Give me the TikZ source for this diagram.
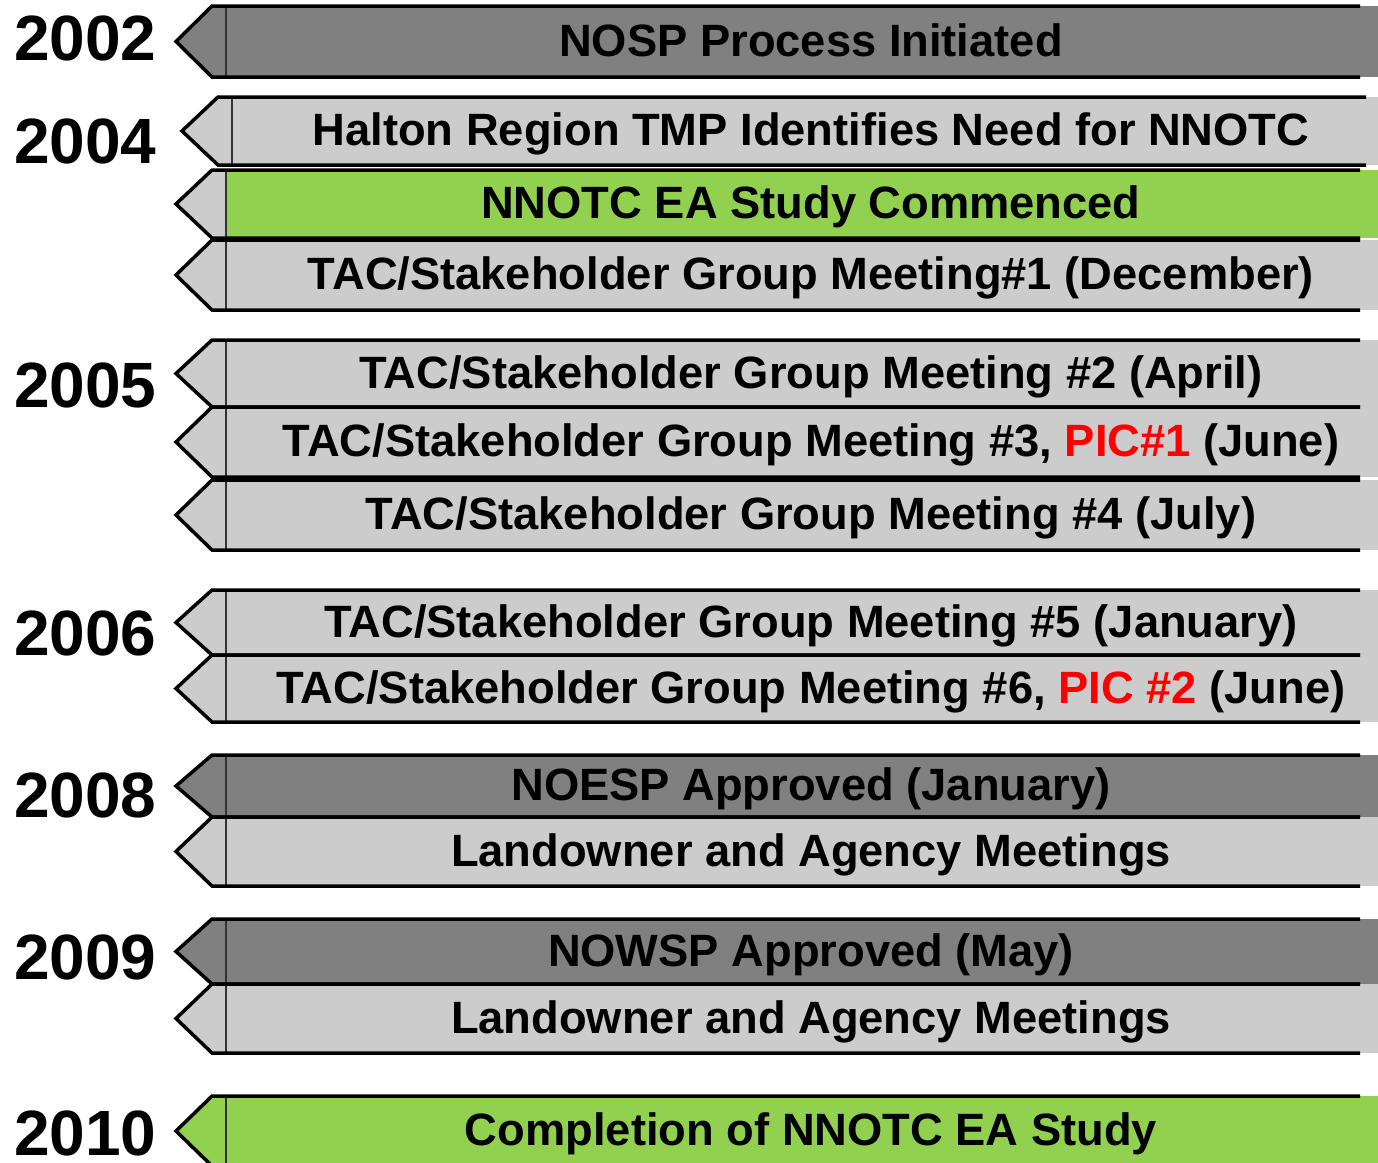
\documentclass[tikz,border=0pt]{standalone}
\usepackage{fontspec}
\setmainfont{Liberation Sans}
\usepackage{xcolor}
\usepackage{tikz}
\definecolor{tlDark}{HTML}{808080}
\definecolor{tlLight}{HTML}{CCCCCC}
\definecolor{tlGreen}{HTML}{92D050}
\definecolor{tlRed}{HTML}{FF0000}
\tikzset{
  outline/.style={draw=black,line width=3.5pt,line join=miter},
  sepline/.style={draw=black!80,line width=1.6pt},
  bartext/.style={anchor=base,inner sep=0pt,font=\fontsize{45.3}{54}\selectfont\bfseries},
  yeartext/.style={anchor=base west,inner sep=0pt,font=\fontsize{64}{70}\selectfont\bfseries}
}
% #1 xshift, #2 name, #3 top, #4 bottom, #5 head fill, #6 body fill, #7 text
\newcommand{\tlbar}[7][0]{%
  \begin{scope}[xshift=#1]
    \fill[#6] (226,#3) rectangle (1400,#4);
    \fill[#5] (176,{(#3+#4)/2}) -- (212,#3) -- (226,#3) -- (226,#4) -- (212,#4) -- cycle;
    \draw[sepline] (226,#3) -- (226,#4);
    \draw[outline] (1360,#3) -- (212,#3) -- (176,{(#3+#4)/2}) -- (212,#4) -- (1360,#4);
  \end{scope}
  \node[bartext] (#2) at (811,{(#3+#4)/2+14.5}) {#7};
}

\begin{document}
\begin{tikzpicture}[x=1pt,y=-1pt]
\useasboundingbox (0,0) rectangle (1378,1162);
\clip (0,0) rectangle (1378,1162);

\tlbar{nosp}{6}{77}{tlDark}{tlDark}{NOSP Process Initiated}
\tlbar[6]{tmp}{97}{165}{tlLight}{tlLight}{Halton Region TMP Identifies Need for NNOTC}
\tlbar{start}{170}{238}{tlLight}{tlGreen}{NNOTC EA Study Commenced}
\tlbar{meet1}{240}{310}{tlLight}{tlLight}{TAC/Stakeholder Group Meeting\#1 (December)}
\tlbar{meet2}{340}{407}{tlLight}{tlLight}{TAC/Stakeholder Group Meeting \#2 (April)}
\tlbar{meet3}{407}{477}{tlLight}{tlLight}{TAC/Stakeholder Group Meeting \#3, \textcolor{tlRed}{PIC\#1} (June)}
\tlbar{meet4}{480}{550}{tlLight}{tlLight}{TAC/Stakeholder Group Meeting \#4 (July)}
\tlbar{meet5}{590}{655}{tlLight}{tlLight}{TAC/Stakeholder Group Meeting \#5 (January)}
\tlbar{meet6}{655}{722}{tlLight}{tlLight}{TAC/Stakeholder Group Meeting \#6, \textcolor{tlRed}{PIC \#2} (June)}
\tlbar{noesp}{755}{817}{tlDark}{tlDark}{NOESP Approved (January)}
\tlbar{land1}{817}{886}{tlLight}{tlLight}{Landowner and Agency Meetings}
\tlbar{nowsp}{919}{984}{tlDark}{tlDark}{NOWSP Approved (May)}
\tlbar{land2}{984}{1053}{tlLight}{tlLight}{Landowner and Agency Meetings}
\tlbar{finish}{1096}{1166}{tlGreen}{tlGreen}{Completion of NNOTC EA Study}

% years
\node[yeartext] (y2002) at (14,60) {2002};
\node[yeartext] (y2004) at (14,163) {2004};
\node[yeartext] (y2005) at (14,407) {2005};
\node[yeartext] (y2006) at (14,655) {2006};
\node[yeartext] (y2008) at (14,817) {2008};
\node[yeartext] (y2009) at (14,979) {2009};
\node[yeartext] (y2010) at (14,1155) {2010};
\end{tikzpicture}
\end{document}
